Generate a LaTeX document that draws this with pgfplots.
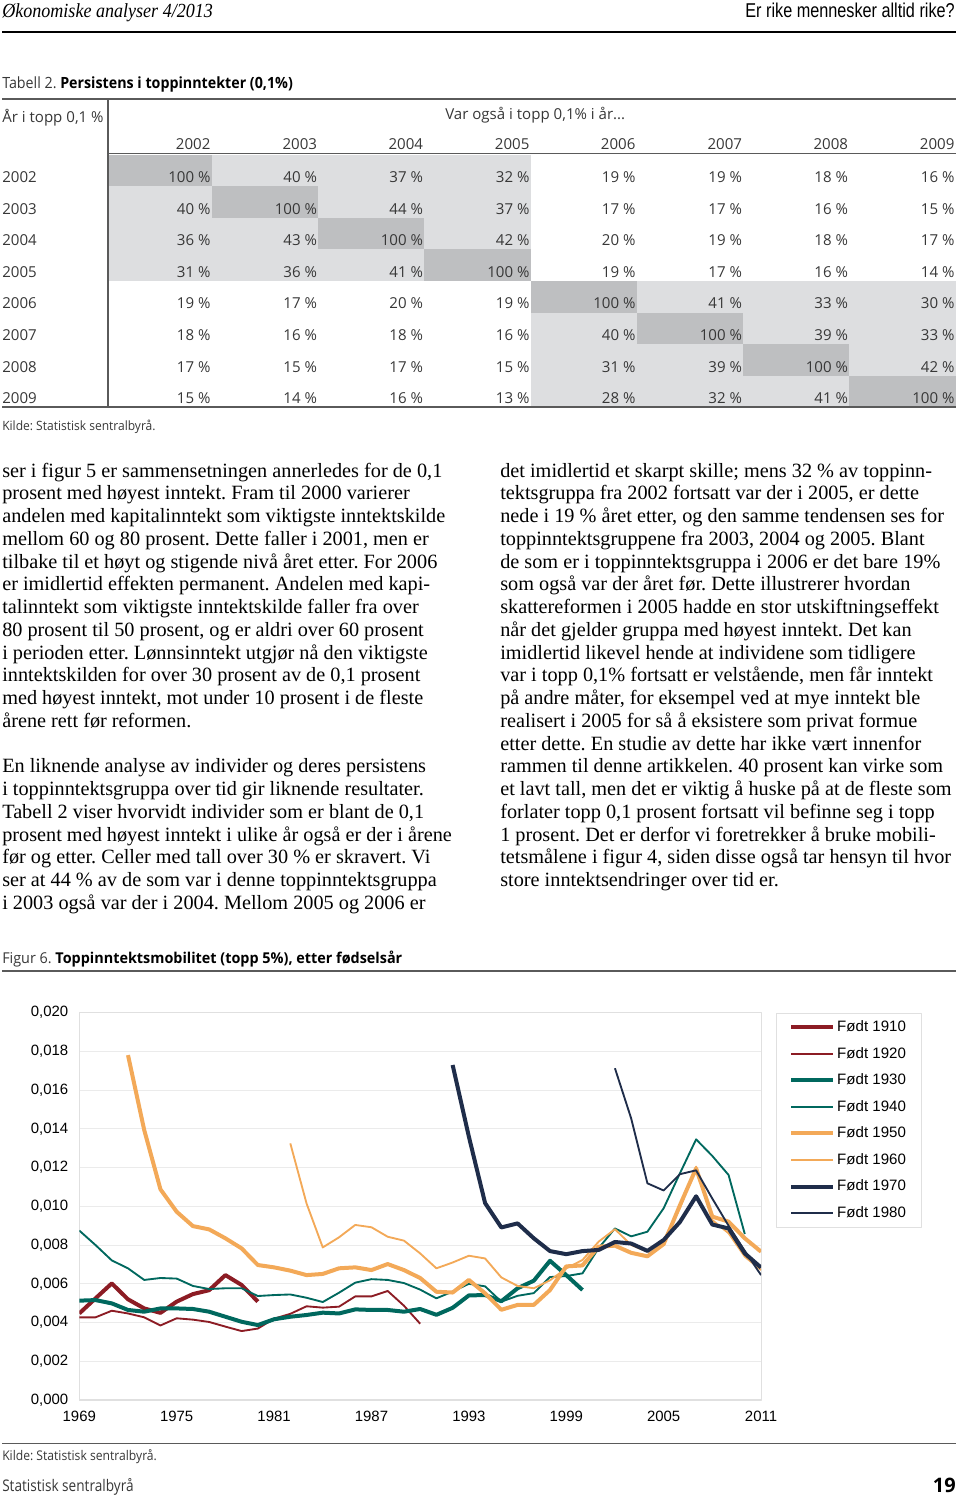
\documentclass[border=0pt]{standalone}
\usepackage{fontspec}
\usepackage{graphicx}
\usepackage{pgfplots}
\usepackage{pgfplotstable}
\pgfplotsset{compat=1.18}
\setmainfont{Liberation Serif}
\newfontfamily\tabfont{Open Sans}
\newfontfamily\chartfont{Liberation Sans}
\definecolor{cRed}{RGB}{140,28,36}
\definecolor{cTeal}{RGB}{0,104,94}
\definecolor{cOrange}{RGB}{243,169,88}
\definecolor{cNavy}{RGB}{31,45,74}
\definecolor{shadeL}{RGB}{221,222,224}
\definecolor{shadeD}{RGB}{190,191,193}
\definecolor{txtgrey}{RGB}{55,55,55}
\definecolor{rulegrey}{RGB}{90,90,90}
\newcommand\fitw[2]{\resizebox{#1}{\height}{#2}}

\pgfplotstableread{
year v
1969 4.47
1970 5.25
1971 6.02
1972 5.20
1973 4.73
1974 4.50
1975 5.08
1976 5.47
1977 5.67
1978 6.45
1979 5.94
1980 5.08
}\tA
\pgfplotstableread{
year v
1969 4.27
1970 4.27
1971 4.61
1972 4.47
1973 4.27
1974 3.85
1975 4.22
1976 4.15
1977 4.03
1978 3.79
1979 3.56
1980 3.69
1981 4.20
1982 4.45
1983 4.84
1984 4.77
1985 4.82
1986 5.35
1987 5.35
1988 5.63
1989 4.87
1990 3.94
}\tB
\pgfplotstableread{
year v
1969 5.13
1970 5.16
1971 4.99
1972 4.65
1973 4.56
1974 4.73
1975 4.73
1976 4.70
1977 4.56
1978 4.30
1979 4.04
1980 3.87
1981 4.17
1982 4.30
1983 4.39
1984 4.51
1985 4.47
1986 4.68
1987 4.65
1988 4.65
1989 4.56
1990 4.70
1991 4.40
1992 4.76
1993 5.40
1994 5.42
1995 5.10
1996 5.77
1997 6.16
1998 7.19
1999 6.45
2000 5.68
}\tC
\pgfplotstableread{
year v
1969 8.75
1970 8.00
1971 7.21
1972 6.80
1973 6.20
1974 6.30
1975 6.27
1976 5.89
1977 5.73
1978 5.77
1979 5.77
1980 5.37
1981 5.42
1982 5.45
1983 5.28
1984 5.06
1985 5.54
1986 6.06
1987 6.24
1988 6.20
1989 6.04
1990 5.70
1991 5.25
1992 5.60
1993 6.00
1994 5.87
1995 5.08
1996 5.38
1997 5.52
1998 6.35
1999 6.40
2000 6.54
2001 7.85
2002 8.86
2003 8.45
2004 8.69
2005 9.90
2006 11.70
2007 13.46
2008 12.60
2009 11.62
2010 8.57
}\tD
\pgfplotstableread{
year v
1972 17.81
1973 13.94
1974 10.88
1975 9.72
1976 8.98
1977 8.81
1978 8.35
1979 7.83
1980 6.97
1981 6.85
1982 6.68
1983 6.45
1984 6.51
1985 6.80
1986 6.85
1987 6.71
1988 7.02
1989 6.71
1990 6.30
1991 5.59
1992 5.55
1993 6.20
1994 5.51
1995 4.66
1996 4.91
1997 4.91
1998 5.68
1999 6.90
2000 6.95
2001 7.92
2002 7.97
2003 7.60
2004 7.42
2005 8.05
2006 10.05
2007 11.96
2008 9.47
2009 9.21
2010 8.35
2011 7.66
}\tE
\pgfplotstableread{
year v
1982 13.25
1983 10.15
1984 7.88
1985 8.40
1986 9.04
1987 8.92
1988 8.43
1989 8.23
1990 7.57
1991 6.80
1992 7.10
1993 7.45
1994 7.31
1995 6.33
1996 5.89
1997 5.77
1998 6.18
1999 6.80
2000 7.23
2001 8.18
2002 8.82
2003 8.00
2004 7.66
2005 8.26
2006 9.90
2007 12.05
2008 9.29
2009 8.61
2010 7.40
2011 6.71
}\tF
\pgfplotstableread{
year v
1992 17.30
1993 13.60
1994 10.17
1995 8.91
1996 9.12
1997 8.35
1998 7.69
1999 7.53
2000 7.69
2001 7.75
2002 8.16
2003 8.08
2004 7.70
2005 8.26
2006 9.19
2007 10.52
2008 9.06
2009 8.86
2010 7.57
2011 6.84
}\tG
\pgfplotstableread{
year v
2002 17.13
2003 14.54
2004 11.19
2005 10.82
2006 11.66
2007 11.86
2008 10.40
2009 9.00
2010 7.70
2011 6.45
}\tH

\begin{document}
\frenchspacing
\begin{tikzpicture}
\begin{scope}[x=0.75pt,y=-0.75pt]
% page frame (invisible)
\path (0,0) rectangle (960,1497);
% header
\node[anchor=base west,inner sep=0] at (2,17) {\fitw{158pt}{\fontsize{15}{15}\selectfont\itshape Økonomiske analyser 4/2013}};
\node[anchor=base east,inner sep=0] at (955,17) {\fitw{157pt}{\chartfont\fontsize{15}{15}\selectfont Er rike mennesker alltid rike?}};
\draw[line width=1.9pt] (2,32) -- (956,32);
% table caption
\node[anchor=base west,inner sep=0] at (2,88) {\fitw{218pt}{\tabfont\fontsize{11.6}{14}\selectfont\color{txtgrey}Tabell 2. \textbf{\color{black}Persistens i toppinntekter (0,1\%)}}};
% shading
\fill[shadeL] (108,154.5) rectangle (530.7,280.9);
\fill[shadeL] (530.7,280.9) rectangle (955.7,407.3);
\def\colL{{108,211.7,318.3,424.3,530.7,636.7,743.3,849.3}}
\def\colR{{211.7,318.3,424.3,530.7,636.7,743.3,849.3,955.7}}
\foreach \k in {0,...,7}{
  \pgfmathsetmacro\xl{\colL[\k]}
  \pgfmathsetmacro\xr{\colR[\k]}
  \fill[shadeD] (\xl,154.5+31.6*\k) rectangle (\xr,154.5+31.6*\k+31.6);
}
% rules
\draw[rulegrey,line width=1pt] (2,99) -- (956,99);
\draw[rulegrey,line width=1pt] (108,99) -- (108,407.3);
\draw[rulegrey,line width=1pt] (108,153.5) -- (956,153.5);
\draw[rulegrey,line width=1.3pt] (2,407.3) -- (956,407.3);
% header texts
\begin{scope}[every node/.style={inner sep=0,font=\tabfont\fontsize{11.3}{13}\selectfont,text=txtgrey}]
\node[anchor=base west] at (2,122) {År i topp 0,1 \%};
\node[anchor=base west] at (445,119) {Var også i topp 0,1\% i år...};
\foreach \y [count=\j from 0] in {2002,2003,2004,2005,2006,2007,2008,2009}{
  \pgfmathsetmacro\xr{\colR[\j]}
  \node[anchor=base east] at (\xr-1,149) {\y};
  \node[anchor=base west] at (2,182.5+31.6*\j) {\y};
}
\foreach \vals [count=\i from 0] in {{100,40,37,32,19,19,18,16},{40,100,44,37,17,17,16,15},{36,43,100,42,20,19,18,17},{31,36,41,100,19,17,16,14},{19,17,20,19,100,41,33,30},{18,16,18,16,40,100,39,33},{17,15,17,15,31,39,100,42},{15,14,16,13,28,32,41,100}}{
  \foreach \v [count=\j from 0] in \vals {
    \pgfmathsetmacro\xr{\colR[\j]}
    \node[anchor=base east] at (\xr-1,182.5+31.6*\i) {\v\ \%};
  }
}
\node[anchor=base west] at (2,430) {\fitw{115pt}{\tabfont\fontsize{9.6}{11}\selectfont Kilde: Statistisk sentralbyrå.}};
\end{scope}
% body text
\begin{scope}[every node/.style={anchor=base west,inner sep=0,font=\fontsize{15.2}{17}\selectfont}]
\foreach \t [count=\k from 0] in {
ser i figur 5 er sammensetningen annerledes for de 0{,}1,
prosent med høyest inntekt. Fram til 2000 varierer,
andelen med kapitalinntekt som viktigste inntektskilde,
mellom 60 og 80 prosent. Dette faller i 2001{,} men er,
tilbake til et høyt og stigende nivå året etter. For 2006,
er imidlertid effekten permanent. Andelen med kapi-,
talinntekt som viktigste inntektskilde faller fra over,
80 prosent til 50 prosent{,} og er aldri over 60 prosent,
i perioden etter. Lønnsinntekt utgjør nå den viktigste,
inntektskilden for over 30 prosent av de 0{,}1 prosent,
med høyest inntekt{,} mot under 10 prosent i de fleste,
årene rett før reformen.}{
  \node at (2,477+22.75*\k) {\t};
}
\foreach \t [count=\k from 13] in {
En liknende analyse av individer og deres persistens,
i toppinntektsgruppa over tid gir liknende resultater.,
Tabell 2 viser hvorvidt individer som er blant de 0{,}1,
prosent med høyest inntekt i ulike år også er der i årene,
før og etter. Celler med tall over 30 \% er skravert. Vi,
ser at 44 \% av de som var i denne toppinntektsgruppa,
i 2003 også var der i 2004. Mellom 2005 og 2006 er}{
  \node at (2,477+22.75*\k) {\t};
}
\foreach \t [count=\k from 0] in {
det imidlertid et skarpt skille; mens 32 \% av toppinn-,
tektsgruppa fra 2002 fortsatt var der i 2005{,} er dette,
nede i 19 \% året etter{,} og den samme tendensen ses for,
toppinntektsgruppene fra 2003{,} 2004 og 2005. Blant,
de som er i toppinntektsgruppa i 2006 er det bare 19\%,
som også var der året før. Dette illustrerer hvordan,
skattereformen i 2005 hadde en stor utskiftningseffekt,
når det gjelder gruppa med høyest inntekt. Det kan,
imidlertid likevel hende at individene som tidligere,
var i topp 0{,}1\% fortsatt er velstående{,} men får inntekt,
på andre måter{,} for eksempel ved at mye inntekt ble,
realisert i 2005 for så å eksistere som privat formue,
etter dette. En studie av dette har ikke vært innenfor,
rammen til denne artikkelen. 40 prosent kan virke som,
et lavt tall{,} men det er viktig å huske på at de fleste som,
forlater topp 0{,}1 prosent fortsatt vil befinne seg i topp,
1 prosent. Det er derfor vi foretrekker å bruke mobili-,
tetsmålene i figur 4{,} siden disse også tar hensyn til hvor,
store inntektsendringer over tid er.}{
  \node at (500,477+22.75*\k) {\t};
}
\end{scope}
% figure caption
\node[anchor=base west,inner sep=0] at (2,963.5) {\fitw{300pt}{\tabfont\fontsize{11.2}{13}\selectfont\color{txtgrey}Figur 6. \textbf{\color{black}Toppinntektsmobilitet (topp 5\%), etter fødselsår}}};
\draw[rulegrey,line width=1.1pt] (2,971) -- (956,971);
% footer
\draw[rulegrey,line width=1.1pt] (2,1443.5) -- (956,1443.5);
\node[anchor=base west,inner sep=0] at (2,1460.5) {\fitw{116pt}{\tabfont\fontsize{10}{12}\selectfont\color{txtgrey}Kilde: Statistisk sentralbyrå.}};
\node[anchor=base west,inner sep=0] at (2,1491) {\fitw{98.5pt}{\tabfont\fontsize{12}{14}\selectfont\color{txtgrey}Statistisk sentralbyrå}};
\node[anchor=base east,inner sep=0] at (956,1492) {\tabfont\fontsize{15}{16}\selectfont\bfseries 19};
\end{scope}

\begin{axis}[
  at={(59.475pt,-1050pt)}, anchor=south west,
  scale only axis, width=511.3pt, height=290.5pt,
  xmin=1969, xmax=2011, ymin=0, ymax=20,
  xtick={1969,1975,1981,1987,1993,1999,2005,2011},
  xticklabels={1969,1975,1981,1987,1993,1999,2005,2011},
  ytick={0,2,4,6,8,10,12,14,16,18,20},
  yticklabels={{0,000},{0,002},{0,004},{0,006},{0,008},{0,010},{0,012},{0,014},{0,016},{0,018},{0,020}},
  major tick length=0pt,
  ymajorgrids, grid style={draw=black!8, line width=0.8pt},
  axis line style={draw=black!12, line width=0.8pt},
  tick label style={font=\chartfont\fontsize{11.2}{13}\selectfont},
  yticklabel style={xshift=-4.8pt},
  xticklabel style={yshift=-4.5pt},
  legend style={at={(axis description cs:1.022,1)}, anchor=north west,
    draw=black!12, line width=0.8pt, fill=white,
    font=\chartfont\fontsize{11.3}{13}\selectfont,
    row sep=6.2pt, inner xsep=9.5pt, inner ysep=3.8pt,
    cells={anchor=west}},
  legend image code/.code={\draw[#1] (0pt,0pt) -- (31pt,0pt);},
  line join=round,
]
\addplot[cRed, line width=3pt] table[x=year,y=v] {\tA};
\addlegendentry{Født 1910}
\addplot[cRed, line width=1.4pt] table[x=year,y=v] {\tB};
\addlegendentry{Født 1920}
\addplot[cTeal, line width=3pt] table[x=year,y=v] {\tC};
\addlegendentry{Født 1930}
\addplot[cTeal, line width=1.4pt] table[x=year,y=v] {\tD};
\addlegendentry{Født 1940}
\addplot[cOrange, line width=3pt] table[x=year,y=v] {\tE};
\addlegendentry{Født 1950}
\addplot[cOrange, line width=1.4pt] table[x=year,y=v] {\tF};
\addlegendentry{Født 1960}
\addplot[cNavy, line width=3pt] table[x=year,y=v] {\tG};
\addlegendentry{Født 1970}
\addplot[cNavy, line width=1.4pt] table[x=year,y=v] {\tH};
\addlegendentry{Født 1980}
\end{axis}
\end{tikzpicture}
\end{document}
